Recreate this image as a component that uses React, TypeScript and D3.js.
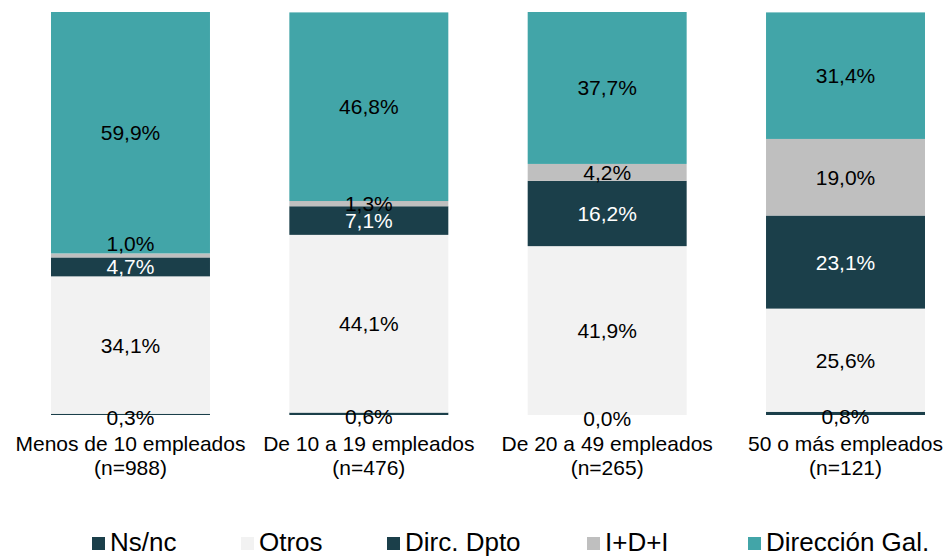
import React from "react";
import * as d3 from "d3";

const categories = ["Menos de 10 empleados", "De 10 a 19 empleados", "De 20 a 49 empleados", "50 o más empleados"];
const sampleSizes = ["(n=988)", "(n=476)", "(n=265)", "(n=121)"];
const seriesNames = ["Ns/nc", "Otros", "Dirc. Dpto", "I+D+I", "Dirección Gal."];
const nsnc = [0.3, 0.6, 0.0, 0.8];
const otros = [34.1, 44.1, 41.9, 25.6];
const dircDpto = [4.7, 7.1, 16.2, 23.1];
const idi = [1.0, 1.3, 4.2, 19.0];
const direccionGal = [59.9, 46.8, 37.7, 31.4];

const colors = ["#1B3F4A", "#F2F2F2", "#1B3F4A", "#BFBFBF", "#42A5A8"];
const labelColors = ["#000", "#000", "#fff", "#000", "#000"];
const legendX = [92, 241, 387, 587, 748];

const W = 948;
const H = 556;

export default function App() {
  const seriesValues = [nsnc, otros, dircDpto, idi, direccionGal];
  const rows = categories.map((c, i) => {
    const r: any = { cat: c };
    seriesNames.forEach((s, j) => (r[s] = seriesValues[j][i]));
    return r;
  });
  const stack = d3.stack<any>().keys(seriesNames)(rows);
  const x = d3.scaleBand<string>().domain(categories).range([51, 925]).paddingInner(0.333).paddingOuter(0);
  const y = d3.scaleLinear().domain([0, 100]).range([415, 12]);
  const font = "'Liberation Sans', Arial, sans-serif";

  return (
    <svg width={W} height={H} style={{ position: "absolute", left: 0, top: 0, background: "#fff" }} fontFamily={font}>
      {stack.map((layer, j) => (
        <g key={layer.key}>
          {layer.map((d, i) => (
            <rect
              key={i}
              x={x(categories[i])}
              width={x.bandwidth()}
              y={y(d[1])}
              height={Math.max(0, y(d[0]) - y(d[1]))}
              fill={colors[j]}
            />
          ))}
        </g>
      ))}
      {stack.map((layer, j) => (
        <g key={"l" + layer.key}>
          {layer.map((d, i) => {
            let cy = (y(d[0]) + y(d[1])) / 2;
            // small I+D+I label in first bar is nudged above to avoid overlap
            if (j === 3 && i === 0) cy -= 12;
            if (j === 0) cy += 3;
            return (
              <text
                key={i}
                x={(x(categories[i]) as number) + x.bandwidth() / 2}
                y={cy + 7.5}
                textAnchor="middle"
                fontSize={21}
                fill={labelColors[j]}
              >
                {seriesValues[j][i].toFixed(1).replace(".", ",")}%
              </text>
            );
          })}
        </g>
      ))}
      {categories.map((c, i) => (
        <text key={c} textAnchor="middle" fontSize={21} fill="#000">
          <tspan x={(x(c) as number) + x.bandwidth() / 2} y={451}>{c}</tspan>
          <tspan x={(x(c) as number) + x.bandwidth() / 2} y={475}>{sampleSizes[i]}</tspan>
        </text>
      ))}
      {seriesNames.map((s, j) => (
        <g key={s} transform={`translate(${legendX[j]},0)`}>
          <rect x={0} y={537} width={13} height={13} fill={colors[j]} />
          <text x={18} y={551} fontSize={26} fill="#000">{s}</text>
        </g>
      ))}
    </svg>
  );
}
